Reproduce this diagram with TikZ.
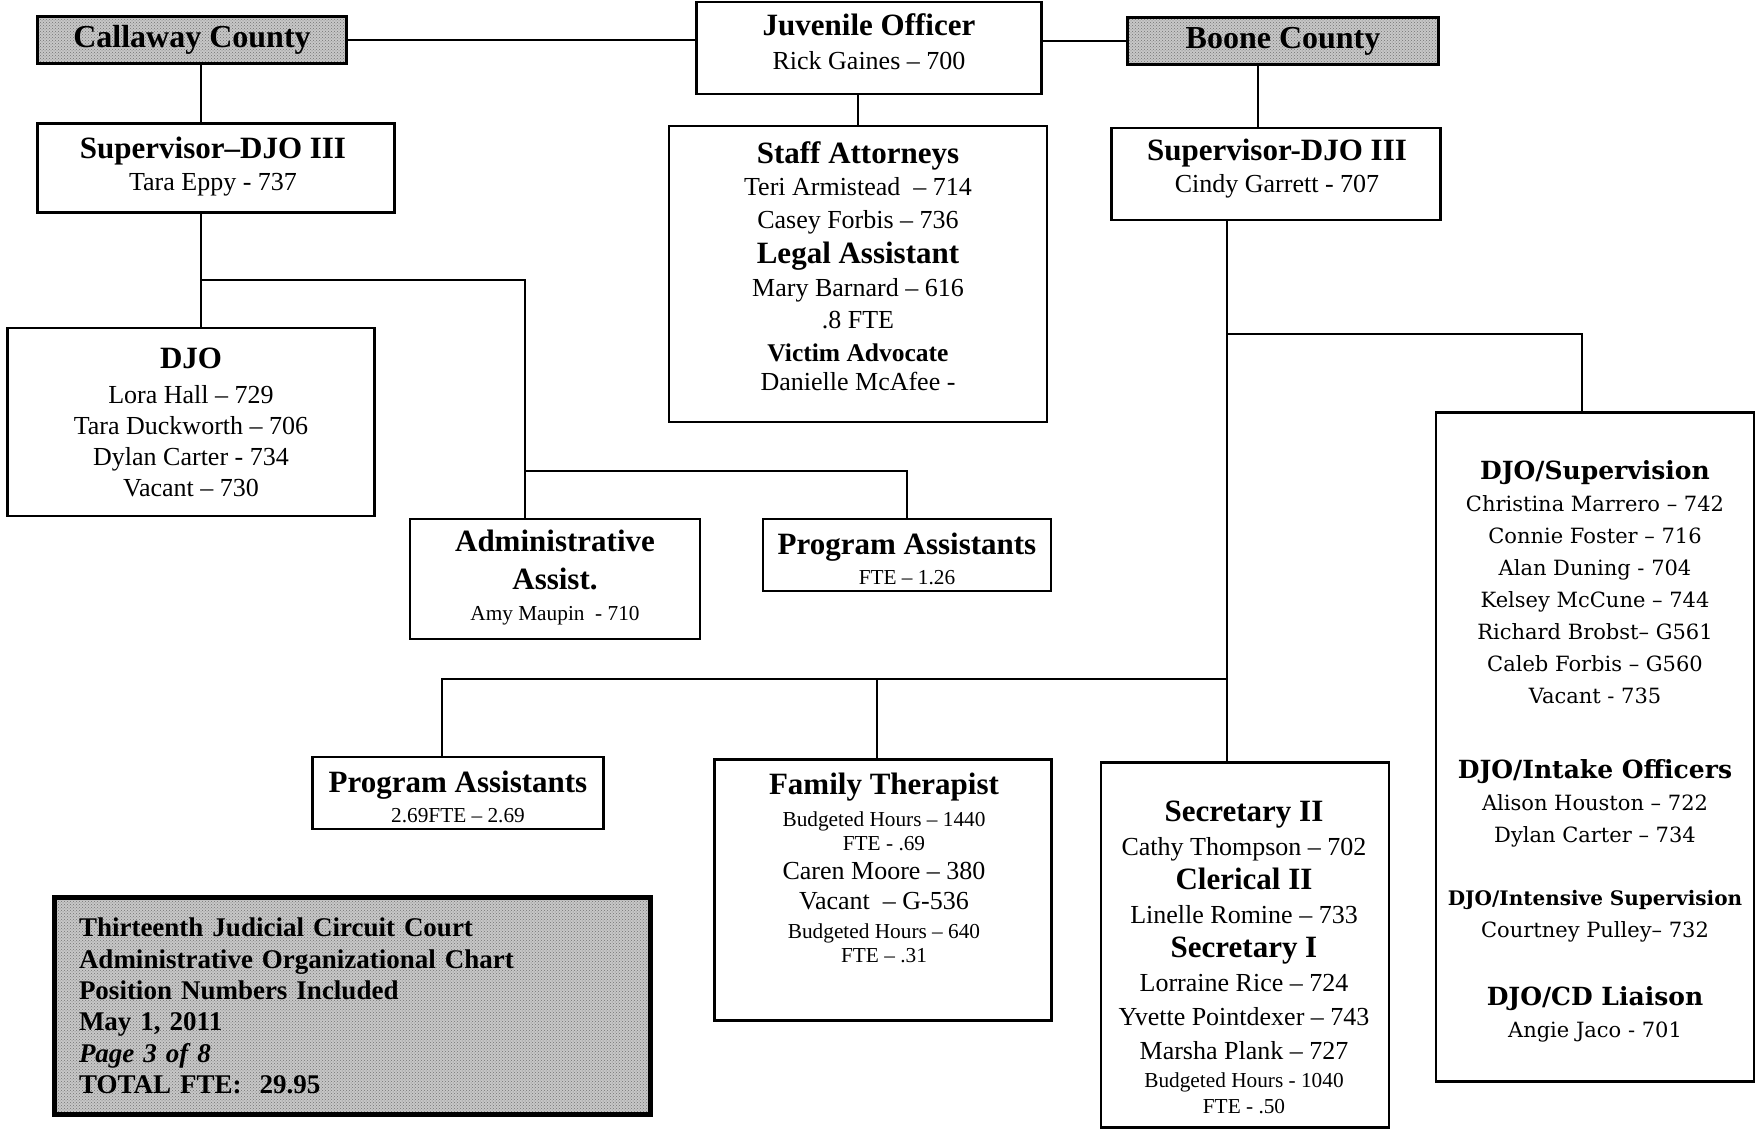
\documentclass[tikz,border=0pt]{standalone}
\usepackage{fontspec}
\setmainfont{Liberation Serif}
\newfontfamily\widefont{DejaVu Serif}
\usetikzlibrary{calc,patterns}

% text sizes (1pt = 1px of the chart)
\newcommand\ttl{\bfseries\fontsize{31}{33}\selectfont}
\newcommand\nm{\mdseries\fontsize{26}{32}\selectfont}
\newcommand\sml{\mdseries\fontsize{21.3}{26}\selectfont}
\newcommand\wttl{\widefont\bfseries\fontsize{25}{32}\selectfont}
\newcommand\wnm{\widefont\mdseries\fontsize{21}{32}\selectfont}

\begin{document}
\begin{tikzpicture}[
    x=1pt, y=-1pt,
    box/.style={draw, line width=2.5pt, inner sep=0pt, align=center},
    county/.style={box, preaction={fill=black!22}, pattern=crosshatch dots, pattern color=black!55},
    txt/.style={align=center, inner sep=0pt, font=\fontsize{26}{#1}\selectfont},
    txt/.default=32,
    wtxt/.style={align=center, inner sep=0pt, font=\widefont\fontsize{21}{32}\selectfont},
    link/.style={line width=2pt}
]
\useasboundingbox (0,0) rectangle (1761,1134);

% Top row
\node (callaway) at (192,40) [county, minimum width=309pt, minimum height=47pt, font=\bfseries\fontsize{32}{34}\selectfont] {Callaway County};
\node (juv) at (869,48) [box, minimum width=345pt, minimum height=92pt] {};
\node (juvT) at (869,42) [txt=34] {\ttl Juvenile Officer\\ \nm Rick Gaines – 700};
\node (boone) at (1283,41) [county, minimum width=311pt, minimum height=47pt, font=\bfseries\fontsize{32}{34}\selectfont] {Boone County};

% Second row
\node (supL) at (216,168) [box, minimum width=357pt, minimum height=89pt] {};
\node (supLT) at (213,167) [txt=32] {\ttl Supervisor–DJO III\\ \nm Tara Eppy - 737};
\node (staff) at (858,274) [box, minimum width=378pt, minimum height=296pt] {};
\node (staffT) at (858,266) [txt=32.5] {\ttl Staff Attorneys\\ \nm Teri Armistead\ \ – 714\\ \nm Casey Forbis – 736\\[3pt]
    \ttl Legal Assistant\\ \nm Mary Barnard – 616\\ \nm .8 FTE\\
    \bfseries\fontsize{25.5}{32}\selectfont Victim Advocate\\[-3pt] \nm Danielle McAfee -};
\node (supR) at (1276,174) [box, minimum width=329pt, minimum height=92pt] {};
\node (supRT) at (1277,169) [txt=32] {\ttl Supervisor-DJO III\\ \nm Cindy Garrett - 707};

% Callaway branch
\node (djo) at (191,422) [box, minimum width=367pt, minimum height=188pt] {};
\node (djoT) at (191,422) [txt=31] {\ttl DJO\\[4pt] \nm Lora Hall – 729\\ \nm Tara Duckworth – 706\\ \nm Dylan Carter - 734\\ \nm Vacant – 730};
\node (admin) at (555,579) [box, minimum width=290pt, minimum height=120pt] {};
\node (adminT) at (555,578) [txt=31] {\ttl Administrative\\[7pt] \ttl Assist.\\ \sml Amy Maupin\ \ - 710};
\node (progU) at (907,555) [box, minimum width=288pt, minimum height=72pt] {};
\node (progUT) at (907,559) [txt=30] {\ttl Program Assistants\\ \sml FTE – 1.26};

% Boone branch
\node (djosup) at (1595,747) [box, minimum width=318pt, minimum height=669pt] {};
\node (djosupT) at (1595,751) [wtxt] {\wttl DJO/Supervision\\ \wnm Christina Marrero – 742\\ \wnm Connie Foster – 716\\
    \wnm Alan Duning - 704\\ \wnm Kelsey McCune – 744\\ \wnm Richard Brobst– G561\\ \wnm Caleb Forbis – G560\\ \wnm Vacant - 735\\[43pt]
    \wttl DJO/Intake Officers\\ \wnm Alison Houston – 722\\ \wnm Dylan Carter – 734\\[31pt]
    \widefont\bfseries\fontsize{20}{32}\selectfont DJO/Intensive Supervision\\ \wnm Courtney Pulley– 732\\[36pt]
    \wttl DJO/CD Liaison\\ \wnm Angie Jaco - 701};
\node (progL) at (458,793) [box, minimum width=291pt, minimum height=72pt] {};
\node (progLT) at (458,797) [txt=30] {\ttl Program Assistants\\ \sml 2.69FTE – 2.69};
\node (famth) at (883,890) [box, minimum width=337pt, minimum height=261pt] {};
\node (famthT) at (884,868) [txt=28] {\ttl Family Therapist\\[4pt] \sml Budgeted Hours – 1440\\[-4pt] \sml FTE - .69\\[1pt]
    \nm Caren Moore – 380\\[2pt] \nm Vacant\ \ – G-536\\[1pt] \sml Budgeted Hours – 640\\[-4pt] \sml FTE – .31};
\node (secr) at (1245,945) [box, minimum width=288pt, minimum height=365pt] {};
\node (secrT) at (1244,957) [txt=34] {\ttl Secretary II\\ \nm Cathy Thompson – 702\\ \ttl Clerical II\\
    \nm Linelle Romine – 733\\ \ttl Secretary I\\ \nm Lorraine Rice – 724\\ \nm Yvette Pointdexer – 743\\
    \nm Marsha Plank – 727\\[-6pt] \sml Budgeted Hours - 1040\\[-8pt] \sml FTE - .50};

% Legend
\node (legend) at (352,1006) [county, line width=5pt, minimum width=596pt, minimum height=217pt, text width=546pt, align=left,
    font=\bfseries\fontsize{27}{31.4}\selectfont]
    {Thirteenth Judicial Circuit Court\\ Administrative Organizational Chart\\
    Position Numbers Included\\ May 1, 2011\\ \textit{Page 3 of 8}\\ TOTAL FTE:\ \ 29.95};

% Links, top row
\draw[link] (callaway.east) -- (callaway.east -| juv.west);
\draw[link] (boone.west) -- (boone.west -| juv.east);
\draw[link] (staff.north) -- (staff.north |- juv.south);

% Links, Callaway branch
\coordinate (jL) at (201,280);
\coordinate (jA) at (525,471);
\draw[link] (callaway.south -| jL) -- (supL.north -| jL);
\draw[link] (supL.south -| jL) -- (djo.north -| jL);
\draw[link] (jL) -| (admin.north -| jA);
\draw[link] (jA) -| (progU.north);

% Links, Boone branch
\coordinate (bT) at (1258,100);
\coordinate (jR) at (1227,334);
\coordinate (jB) at (1227,679);
\coordinate (pL) at (442,720);
\coordinate (fT) at (877,720);
\coordinate (dS) at (1582,380);
\draw[link] (boone.south -| bT) -- (supR.north -| bT);
\draw[link] (supR.south -| jR) -- (secr.north -| jR);
\draw[link] (jR) -| (djosup.north -| dS);
\draw[link] (jB) -| (progL.north -| pL);
\draw[link] (jB -| fT) -- (famth.north -| fT);

\end{tikzpicture}
\end{document}
